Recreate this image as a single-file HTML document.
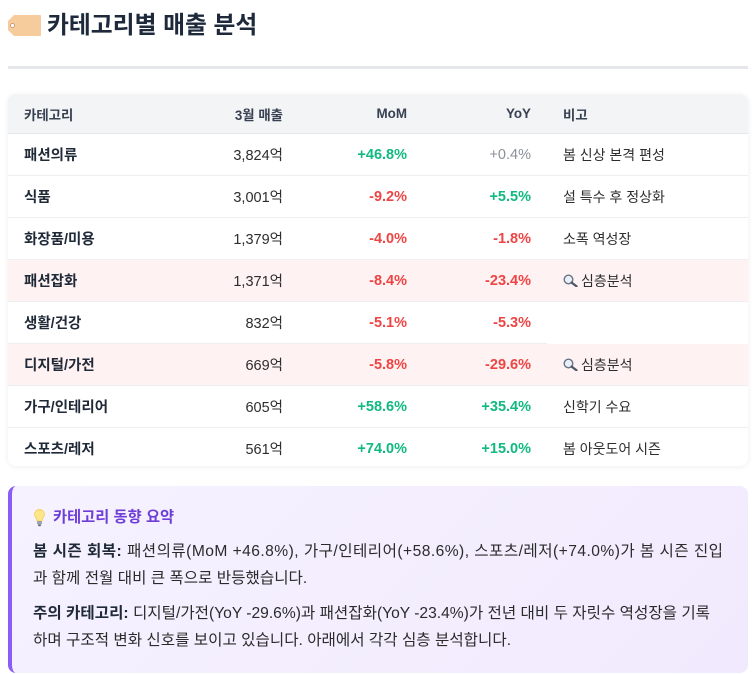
<!DOCTYPE html>
<html>
<head>
<meta charset="utf-8">
<style>
*{box-sizing:border-box;margin:0;padding:0}
html,body{width:756px;height:674px;background:#fff;overflow:hidden}
body{position:relative;font-family:"Liberation Sans","Noto Sans CJK KR",sans-serif;color:#1f2937}
.title{position:absolute;left:47px;top:10px;font-size:23.8px;line-height:32px;font-weight:700;color:#1e293b;white-space:nowrap}
.tag{position:absolute;left:8px;top:15px}
.sep{position:absolute;left:8px;top:66px;width:740px;height:3px;background:#e5e7eb}
.tbl{position:absolute;left:8px;top:94px;width:740px;height:372px;overflow:hidden;border-radius:8px;box-shadow:0 1px 6px rgba(0,0,0,0.07);background:#fff}
.row{display:flex;height:42px}
.row.h{height:40px;background:#f3f4f6}
.c{height:100%;display:flex;align-items:center;padding:0 16px;border-bottom:1px solid #eceef1;font-size:14.5px;color:#2d2d2d;white-space:nowrap}
.h .c{font-size:13.4px;font-weight:700;color:#374151;border-bottom:1px solid #e5e7eb}
.c1{width:167px;font-weight:700;color:#1f2937}
.c2{width:124px;justify-content:flex-end}
.c3{width:124px;justify-content:flex-end;font-weight:700}
.c4{width:124px;justify-content:flex-end;font-weight:700}
.c5{width:201px;font-size:14px}
.h .c1{font-weight:700;color:#374151}
.pink .c{background:#fef2f2}
.g{color:#10b981}
.r{color:#ef4444}
.gr{color:#8b9098;font-weight:400}
.nb{border-bottom:none}
.mag{display:inline-block;margin-right:3px;vertical-align:middle}
.call{position:absolute;left:8px;top:486px;width:740px;height:187px;border-radius:8px;border-left:4px solid #8b5cf6;background:linear-gradient(135deg,#f6f2ff 0%,#f1eafe 100%)}
.ctitle{position:absolute;left:53px;top:506px;font-size:15.3px;line-height:24px;font-weight:700;color:#6d3fd6;white-space:nowrap}
.bulb{position:absolute;left:34px;top:509px}
.line{position:absolute;left:33px;font-size:15.6px;line-height:27px;color:#2b2b2b;white-space:nowrap}
.line b{color:#1f2937}
</style>
</head>
<body>
<svg class="tag" width="33" height="21" viewBox="0 0 33 21">
  <path d="M6 0 H32 a1 1 0 0 1 1 1 V20 a1 1 0 0 1 -1 1 H6 L0 15 V6 Z" fill="#f6cc9c"/>
  <circle cx="4.5" cy="10.5" r="2" fill="#fff" stroke="#c98f6a" stroke-width="0.8"/>
</svg>
<div class="title">카테고리별 매출 분석</div>
<div class="sep"></div>

<div class="tbl">
  <div class="row h"><div class="c c1">카테고리</div><div class="c c2">3월 매출</div><div class="c c3">MoM</div><div class="c c4">YoY</div><div class="c c5">비고</div></div>
  <div class="row"><div class="c c1">패션의류</div><div class="c c2">3,824억</div><div class="c c3 g">+46.8%</div><div class="c c4 gr">+0.4%</div><div class="c c5">봄 신상 본격 편성</div></div>
  <div class="row"><div class="c c1">식품</div><div class="c c2">3,001억</div><div class="c c3 r">-9.2%</div><div class="c c4 g">+5.5%</div><div class="c c5">설 특수 후 정상화</div></div>
  <div class="row"><div class="c c1">화장품/미용</div><div class="c c2">1,379억</div><div class="c c3 r">-4.0%</div><div class="c c4 r">-1.8%</div><div class="c c5">소폭 역성장</div></div>
  <div class="row pink"><div class="c c1">패션잡화</div><div class="c c2">1,371억</div><div class="c c3 r">-8.4%</div><div class="c c4 r">-23.4%</div><div class="c c5"><svg class="mag" width="15" height="13" viewBox="0 0 15 13"><circle cx="5.5" cy="5.5" r="4.3" fill="#e8f1fb" stroke="#6b7280" stroke-width="1.4"/><line x1="8.6" y1="8.6" x2="13.5" y2="12.3" stroke="#4b5563" stroke-width="2.2" stroke-linecap="round"/></svg>심층분석</div></div>
  <div class="row"><div class="c c1">생활/건강</div><div class="c c2">832억</div><div class="c c3 r">-5.1%</div><div class="c c4 r">-5.3%</div><div class="c c5 nb"></div></div>
  <div class="row pink"><div class="c c1">디지털/가전</div><div class="c c2">669억</div><div class="c c3 r">-5.8%</div><div class="c c4 r">-29.6%</div><div class="c c5"><svg class="mag" width="15" height="13" viewBox="0 0 15 13"><circle cx="5.5" cy="5.5" r="4.3" fill="#e8f1fb" stroke="#6b7280" stroke-width="1.4"/><line x1="8.6" y1="8.6" x2="13.5" y2="12.3" stroke="#4b5563" stroke-width="2.2" stroke-linecap="round"/></svg>심층분석</div></div>
  <div class="row"><div class="c c1">가구/인테리어</div><div class="c c2">605억</div><div class="c c3 g">+58.6%</div><div class="c c4 g">+35.4%</div><div class="c c5">신학기 수요</div></div>
  <div class="row"><div class="c c1">스포츠/레저</div><div class="c c2">561억</div><div class="c c3 g">+74.0%</div><div class="c c4 g">+15.0%</div><div class="c c5">봄 아웃도어 시즌</div></div>
</div>

<div class="call"></div>
<svg class="bulb" width="11" height="18" viewBox="0 0 11 18">
  <path d="M5.5 0.5 C2.5 0.5 0.5 2.7 0.5 5.4 C0.5 7.6 2 8.8 2.8 10.3 L3 12 H8 L8.2 10.3 C9 8.8 10.5 7.6 10.5 5.4 C10.5 2.7 8.5 0.5 5.5 0.5 Z" fill="#fde68a" stroke="#f2c94c" stroke-width="0.7"/>
  <rect x="3" y="12" width="5" height="3.4" rx="0.8" fill="#9ca3af"/>
  <rect x="4" y="15.4" width="3" height="1.8" rx="0.8" fill="#6b7280"/>
</svg>
<div class="ctitle">카테고리 동향 요약</div>
<div class="line" style="top:538px;letter-spacing:0.45px"><b>봄 시즌 회복:</b> 패션의류(MoM +46.8%), 가구/인테리어(+58.6%), 스포츠/레저(+74.0%)가 봄 시즌 진입</div>
<div class="line" style="top:565px">과 함께 전월 대비 큰 폭으로 반등했습니다.</div>
<div class="line" style="top:600px"><b>주의 카테고리:</b> 디지털/가전(YoY -29.6%)과 패션잡화(YoY -23.4%)가 전년 대비 두 자릿수 역성장을 기록</div>
<div class="line" style="top:627px">하며 구조적 변화 신호를 보이고 있습니다. 아래에서 각각 심층 분석합니다.</div>
</body>
</html>
